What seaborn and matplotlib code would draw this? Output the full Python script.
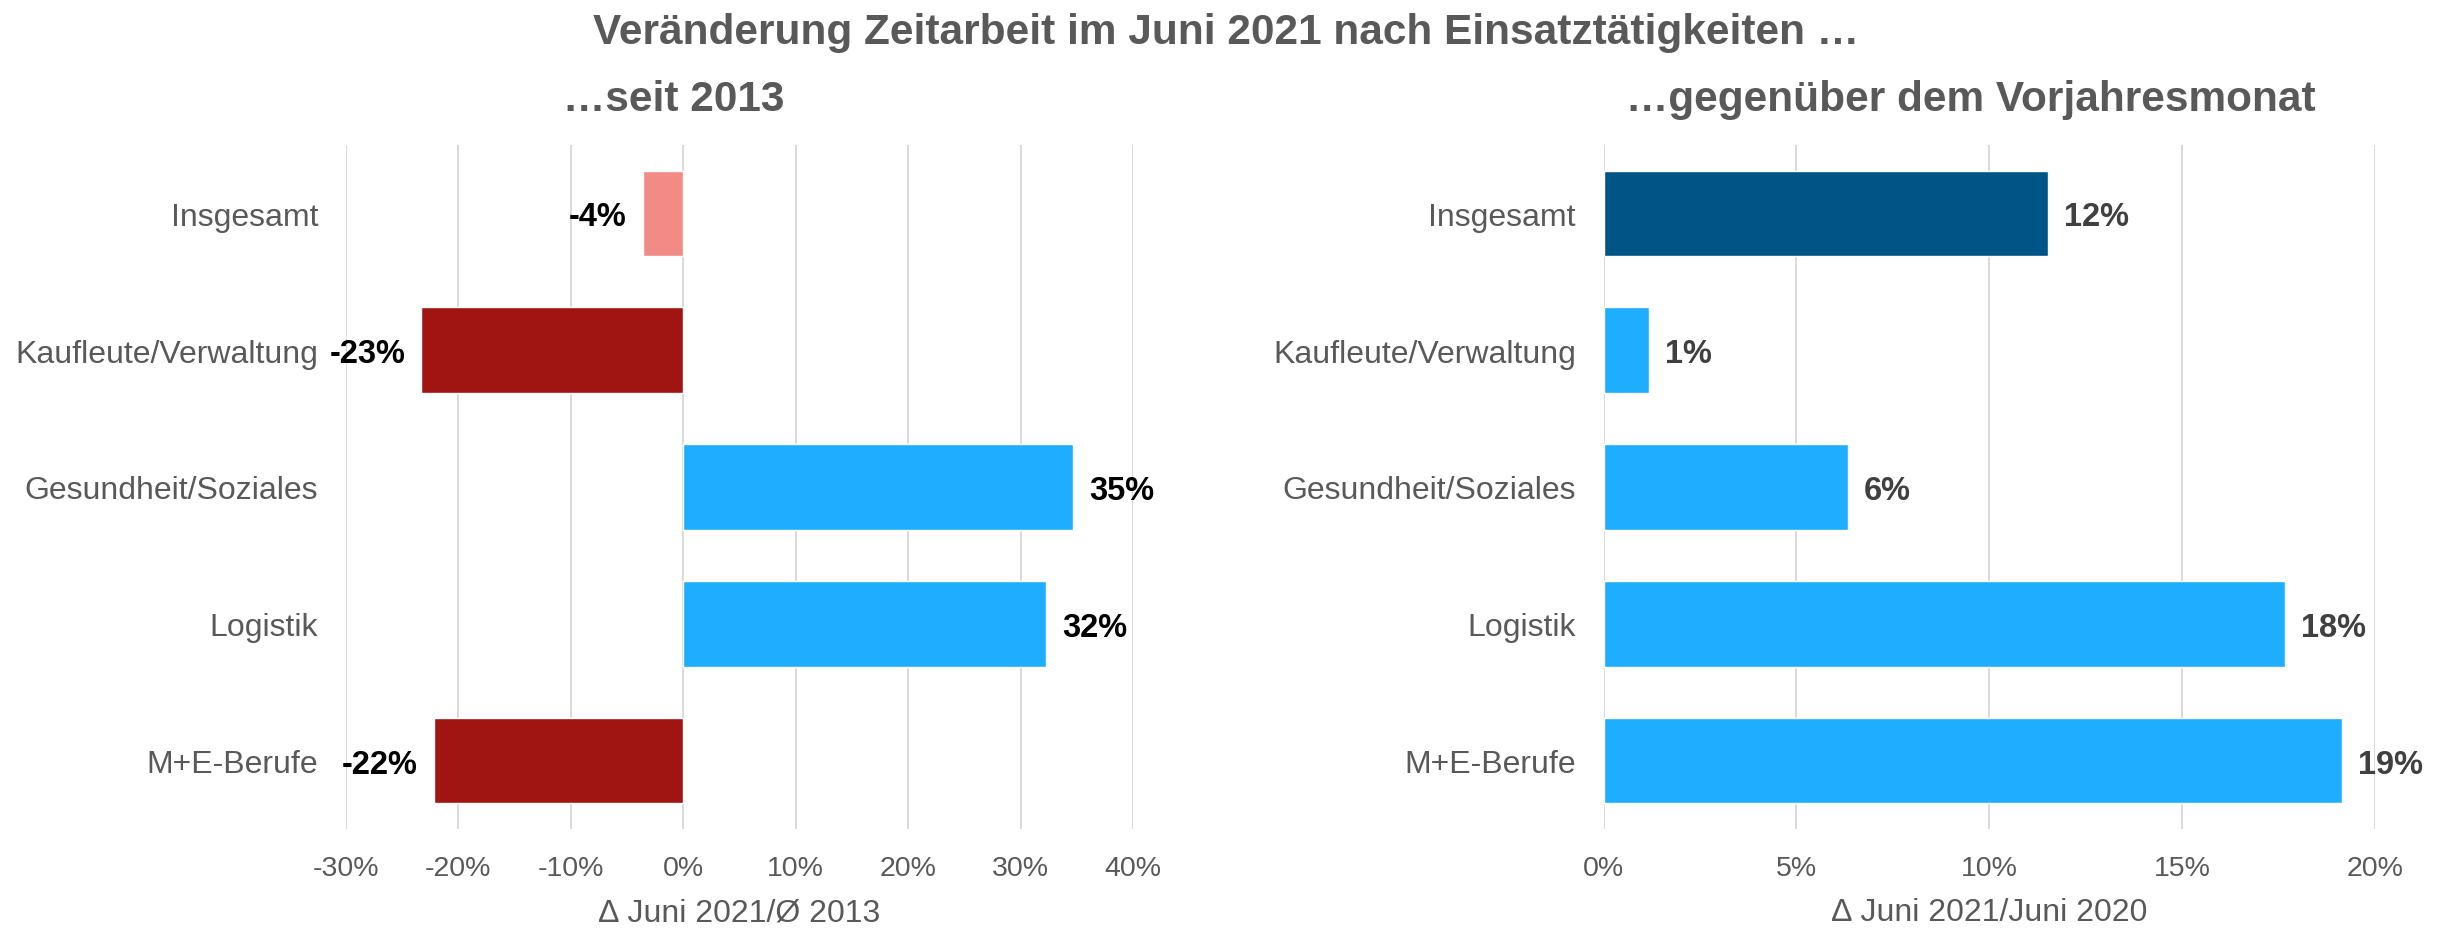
import matplotlib
matplotlib.use("Agg")
import matplotlib.pyplot as plt
import seaborn as sns
import pandas as pd
from matplotlib.ticker import PercentFormatter, MultipleLocator

# ---- data ----
categories = ["Insgesamt", "Kaufleute/Verwaltung", "Gesundheit/Soziales", "Logistik", "M+E-Berufe"]
since_2013 = [-0.036, -0.233, 0.347, 0.323, -0.222]
vs_prev_year = [0.1152, 0.0117, 0.0634, 0.1766, 0.1915]
left_colors = ["#F28B86", "#A01512", "#1FAEFF", "#1FAEFF", "#A01512"]
right_colors = ["#005587", "#1FAEFF", "#1FAEFF", "#1FAEFF", "#1FAEFF"]
title = "Veränderung Zeitarbeit im Juni 2021 nach Einsatztätigkeiten …"
sub_left = "…seit 2013"
sub_right = "…gegenüber dem Vorjahresmonat"
xlabel_left = "∆ Juni 2021/Ø 2013"
xlabel_right = "∆ Juni 2021/Juni 2020"

sns.set_theme(style="white")
plt.rcParams["font.family"] = ["Liberation Sans", "DejaVu Sans"]
plt.rcParams["axes.unicode_minus"] = False

W, H = 2446, 929
fig = plt.figure(figsize=(W / 100, H / 100), dpi=100)
fig.patch.set_facecolor("white")

GRAY = "#595959"


def make_axes(x0, x1, y0=146, y1=830):
    return fig.add_axes([x0 / W, 1 - y1 / H, (x1 - x0) / W, (y1 - y0) / H])


def draw(ax, values, colors, xlim, step, label_color, xlabel):
    df = pd.DataFrame({"cat": categories, "val": values})
    sns.barplot(data=df, x="val", y="cat", hue="cat", palette=colors,
                order=categories, hue_order=categories, legend=False,
                orient="h", width=0.625, saturation=1, ax=ax, zorder=3)
    ax.set_xlim(*xlim)
    ax.set_ylim(4.5, -0.5)
    ax.xaxis.set_major_locator(MultipleLocator(step))
    ax.xaxis.set_major_formatter(PercentFormatter(1.0, decimals=0))
    ax.grid(axis="x", color="#D9D9D9", linewidth=1.4, zorder=0)
    ax.grid(axis="y", visible=False)
    ax.set_axisbelow(True)
    for s in ax.spines.values():
        s.set_visible(False)
    ax.tick_params(axis="y", length=0, pad=20, labelsize=23, labelcolor=GRAY)
    ax.tick_params(axis="x", length=0, pad=18.5, labelsize=20.5, labelcolor=GRAY)
    ax.set_ylabel("")
    ax.set_xlabel(xlabel, fontsize=23, color=GRAY, labelpad=12)
    for cont in ax.containers:
        labels = [f"{v:.0%}" for v in cont.datavalues]
        anns = ax.bar_label(cont, labels=labels, padding=11.5, fontsize=23.5,
                            fontweight="bold", color=label_color)
        for a in anns:
            a.xyann = (a.xyann[0], -2.5)


axL = make_axes(346, 1133)
draw(axL, since_2013, left_colors, (-0.3, 0.4), 0.1, "black", xlabel_left)

axR = make_axes(1603.6, 2375)
draw(axR, vs_prev_year, right_colors, (0.0, 0.2), 0.05, "#404040", xlabel_right)

fig.text(1226 / W, 1 - 33 / H, title, ha="center", va="center",
         fontsize=30.5, fontweight="bold", color=GRAY)
fig.text(674 / W, 1 - 100 / H, sub_left, ha="center", va="center",
         fontsize=30.5, fontweight="bold", color=GRAY)
fig.text(1971 / W, 1 - 100 / H, sub_right, ha="center", va="center",
         fontsize=30.5, fontweight="bold", color=GRAY)

fig.savefig("out.png", dpi=100, facecolor="white")
